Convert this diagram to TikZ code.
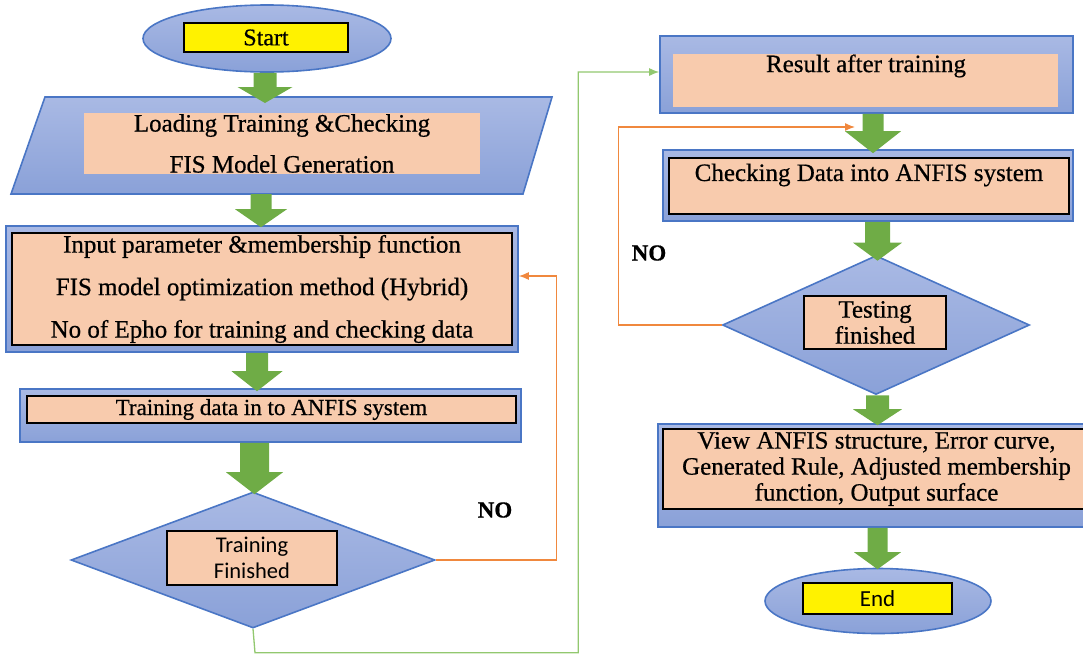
\documentclass[tikz,border=0pt]{standalone}
\usepackage{fontspec}
\setmainfont{Liberation Serif}[FakeBold=0.6]
\newfontfamily\labelsans{Carlito}
\usetikzlibrary{shapes.geometric,calc,arrows.meta}

\definecolor{frameblue}{HTML}{4A76C5}
\definecolor{fillTop}{HTML}{A9B9E4}
\definecolor{fillBot}{HTML}{8AA1D8}
\definecolor{peach}{HTML}{F8CBAD}
\definecolor{flowgreen}{HTML}{6FAC46}
\definecolor{loopgreen}{HTML}{92C86F}
\definecolor{looporange}{HTML}{F0883E}

\tikzset{
  bluefill/.style={draw=frameblue, line width=1.6pt, top color=fillTop, bottom color=fillBot},
  outerframe/.style={bluefill, rectangle, inner sep=0pt},
  peachbox/.style={fill=peach, inner sep=0pt, align=center},
  peachframed/.style={peachbox, draw=black, line width=1.6pt},
  yellowbox/.style={draw=black, line width=1.6pt, fill=yellow, inner sep=0pt},
  bodytext/.style={font=\rmfamily\fontsize{25}{26}\selectfont},
  nolabel/.style={font=\rmfamily\fontsize{23}{26}\selectfont\bfseries},
  loopline/.style={line width=1.3pt, -{Latex[length=10pt,width=8pt]}},
}

% block arrow: from, to, x shift, tip overshoot, shaft half width, head half width, head length
\newcommand{\blockarrow}[7]{%
  \fill[flowgreen] let \p1=(#1), \p2=(#2) in
    ({\x1+(#3)-(#5)},\y1) -- ({\x1+(#3)+(#5)},\y1)
    -- ({\x1+(#3)+(#5)},{\y2-(#4)+(#7)}) -- ({\x1+(#3)+(#6)},{\y2-(#4)+(#7)})
    -- ({\x1+(#3)},{\y2-(#4)})
    -- ({\x1+(#3)-(#6)},{\y2-(#4)+(#7)}) -- ({\x1+(#3)-(#5)},{\y2-(#4)+(#7)})
    -- cycle;}

\begin{document}
\begin{tikzpicture}[x=1pt,y=-1pt]
\useasboundingbox (0,0) rectangle (1083,654);

% ---------- left column ----------
\node[bluefill, ellipse, inner sep=0pt, minimum width=248pt, minimum height=67pt] (start) at (267,38.5) {};
\node[yellowbox, minimum width=164pt, minimum height=29pt, font=\rmfamily\fontsize{24}{26}\selectfont] (starttxt) at (266,37.5) {Start};

\path[bluefill] (45,97) coordinate (paraNW) -- (552,97) coordinate (paraNE)
  -- (523,194) coordinate (paraSE) -- (11,194) coordinate (paraSW) -- cycle;
\coordinate (paraTop) at ($(paraNW)!0.5!(paraNE)$);
\coordinate (paraBot) at ($(paraSW)!0.5!(paraSE)$);
\node[peachbox, font=\rmfamily\fontsize{25}{41}\selectfont, minimum width=396pt, minimum height=61pt] (load) at (282,143.5)
  {Loading Training \&Checking\\FIS Model Generation};

\node[outerframe, minimum width=512pt, minimum height=126pt] (params) at (262,289) {};
\node[peachframed, font=\rmfamily\fontsize{25}{42.5}\selectfont, minimum width=500pt, minimum height=112pt] (paramsin) at (262,289)
  {Input parameter \&membership function\\FIS model optimization method (Hybrid)\\No of Epho for training and checking data};

\node[outerframe, minimum width=501pt, minimum height=53pt] (train) at (270.5,415.5) {};
\node[peachframed, font=\rmfamily\fontsize{23}{26}\selectfont, minimum width=489pt, minimum height=27pt] (trainin) at (271.5,409.5)
  {Training data in to ANFIS system};

\node[bluefill, diamond, inner sep=0pt, minimum width=364pt, minimum height=136pt] (dia1) at (253,560) {};
\node[peachframed, font=\labelsans\fontsize{22.5}{26}\selectfont, minimum width=170pt, minimum height=54pt] (dia1in) at (252,558)
  {Training\\Finished};

\node[nolabel] (no1) at (495,510) {NO};

% ---------- right column ----------
\node[outerframe, minimum width=413pt, minimum height=77pt] (result) at (866.5,74.5) {};
\node[peachbox, minimum width=385pt, minimum height=53pt] (resultin) at (865.5,80.5) {};
\node[bodytext] (resulttxt) at (866,66) {Result after training};

\node[outerframe, minimum width=410pt, minimum height=71pt] (check) at (868,185.5) {};
\node[peachframed, minimum width=400pt, minimum height=56pt] (checkin) at (869,186) {};
\node[bodytext] (checktxt) at (869,175) {Checking Data into ANFIS system};

\node[bluefill, diamond, inner sep=0pt, minimum width=307pt, minimum height=139pt] (dia2) at (876,325) {};
\node[peachframed, bodytext, minimum width=142pt, minimum height=53pt] (dia2in) at (875,322.5)
  {Testing\\finished};

\node[nolabel] (no2) at (649,253) {NO};

\node[outerframe, minimum width=437pt, minimum height=103pt] (view) at (876.5,475.5) {};
\node[peachframed, bodytext, minimum width=427pt, minimum height=80pt] (viewin) at (876.5,469)
  {View ANFIS structure, Error curve,\\Generated Rule, Adjusted membership\\function, Output surface};

\node[bluefill, ellipse, inner sep=0pt, minimum width=226pt, minimum height=65pt] (finish) at (878,601) {};
\node[yellowbox, minimum width=149pt, minimum height=31pt, font=\labelsans\fontsize{23}{26}\selectfont] (finishtxt) at (877.5,598.5) {End};

% ---------- loop-back connectors ----------
\draw[loopline, looporange] (dia1.east) -- ++(121,0) |- ([yshift=13pt]params.east);
\coordinate (loopin) at (855,127);
\draw[loopline, looporange] (dia2.west) -- ++(-103,0) |- (loopin);
\draw[loopline, loopgreen] (dia1.south) -- ++(2,24) -| ([xshift=-81pt,yshift=2.5pt]result.west) -- ([yshift=2.5pt]result.west);

% ---------- block arrows ----------
\blockarrow{start.south}{paraTop}{-2pt}{6pt}{11.5pt}{27.5pt}{16pt}
\blockarrow{paraBot}{params.north}{-6pt}{2pt}{10.5pt}{26pt}{18pt}
\blockarrow{params.south}{train.north}{-5pt}{3pt}{11pt}{25.5pt}{20pt}
\blockarrow{train.south}{dia1.north}{-16pt}{3pt}{14.5pt}{28.5pt}{22pt}
\blockarrow{result.south}{check.north}{6.5pt}{4pt}{10.5pt}{28pt}{22pt}
\blockarrow{check.south}{dia2.north}{9.5pt}{6pt}{12.5pt}{24.5pt}{18pt}
\blockarrow{dia2.south}{view.north}{1.5pt}{2pt}{11.5pt}{24.5pt}{16pt}
\blockarrow{view.south}{finish.north}{1pt}{1.5pt}{10pt}{23.5pt}{17pt}
\end{tikzpicture}
\end{document}
